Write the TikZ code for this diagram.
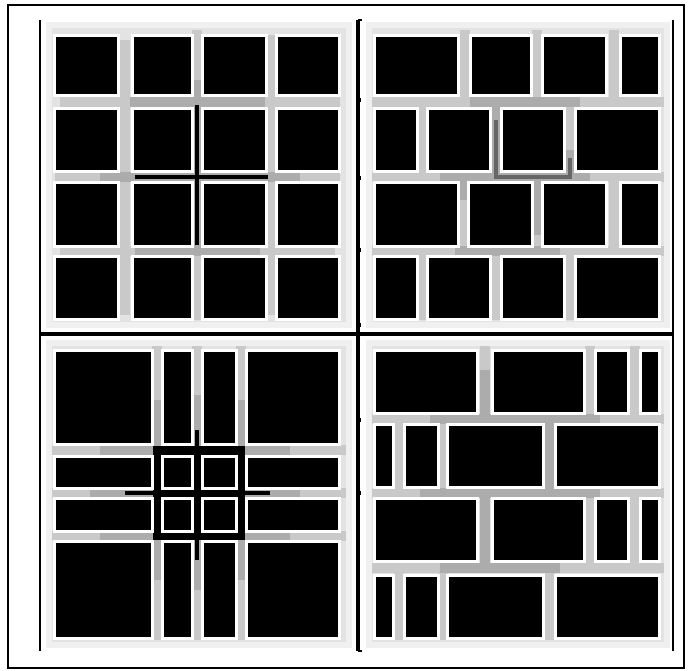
\documentclass[tikz,border=0pt]{standalone}
\begin{document}
\begin{tikzpicture}[x=0.75pt,y=-0.75pt]
\tikzset{
  bgq/.style={fill=gray!22},
  chan/.style={line width=7.5pt,gray!42},
  dchan/.style={line width=7.5pt,gray!65},
  kchan/.style={line width=3pt,black},
  frameline/.style={line width=1.6pt,black},
  mainline/.style={line width=2.2pt,black}
}
\newcommand\blk[4]{\fill[white] (#1-3,#2-3) rectangle (#3+3,#4+3); \fill[black] (#1,#2) rectangle (#3,#4);}
\useasboundingbox (0,0) rectangle (689,671);
\fill[white] (0,0) rectangle (689,671);
% quadrant backgrounds
\fill[gray!12] (46,22) rectangle (352,328);
\fill[bgq] (52,28) rectangle (346,322);
\fill[gray!12] (366,22) rectangle (670,328);
\fill[bgq] (372,28) rectangle (664,322);
\fill[gray!12] (46,340) rectangle (352,648);
\fill[bgq] (52,346) rectangle (346,642);
\fill[gray!12] (366,340) rectangle (670,648);
\fill[bgq] (372,346) rectangle (664,642);
% ---------- TL channels
\draw[chan] (125,40) -- (125,315);
\draw[chan] (197,30) -- (197,320);
\draw[chan] (271,35) -- (271,315);
\draw[chan] (60,102) -- (340,102);
\draw[chan] (55,177) -- (340,177);
\draw[chan] (60,251) -- (335,251);
\draw[dchan] (197,80) -- (197,255);
\draw[dchan] (130,102) -- (265,102);
\draw[dchan] (100,177) -- (300,177);
\draw[dchan] (135,251) -- (260,251);
\draw[kchan] (197,105) -- (197,245);
\draw[kchan] (135,177) -- (268,177);
% TL blocks
\foreach \ya/\yb in {37/94,110/170,184/245,258/318}{
  \foreach \xa/\xb in {56/117,134/191,204/265,278/338}{
    \blk{\xa}{\ya}{\xb}{\yb}
  }
}
% ---------- TR channels
\draw[chan] (372,102) -- (664,102);
\draw[chan] (372,177) -- (664,177);
\draw[chan] (372,251) -- (664,251);
\draw[chan] (465,30) -- (465,102); \draw[chan] (537,30) -- (537,102); \draw[chan] (614,30) -- (614,102);
\draw[chan] (422,102) -- (422,177); \draw[chan] (496,102) -- (496,177); \draw[chan] (570,102) -- (570,177);
\draw[chan] (463,177) -- (463,251); \draw[chan] (537,177) -- (537,251); \draw[chan] (614,177) -- (614,251);
\draw[chan] (422,251) -- (422,320); \draw[chan] (496,251) -- (496,320); \draw[chan] (570,251) -- (570,320);
\draw[dchan] (470,102) -- (580,102);
\draw[dchan] (440,177) -- (590,177);
\draw[dchan] (455,251) -- (560,251);
\draw[dchan] (496,102) -- (496,177);
\draw[dchan] (570,150) -- (570,177);
\draw[dchan] (463,177) -- (463,200);
\draw[dchan] (537,177) -- (537,235);
\draw[line width=3pt,gray!80!black] (496,120) -- (496,177) -- (570,177) -- (570,158);
% TR blocks
\foreach \xa/\xb in {376/457,472/530,544/605,622/658}{\blk{\xa}{37}{\xb}{94}}
\foreach \xa/\xb in {376/416,429/489,503/563,577/658}{\blk{\xa}{110}{\xb}{170}}
\foreach \xa/\xb in {376/457,470/531,544/605,622/658}{\blk{\xa}{184}{\xb}{245}}
\foreach \xa/\xb in {376/416,429/489,503/563,577/658}{\blk{\xa}{258}{\xb}{318}}
% ---------- BL channels
\draw[chan] (157,346) -- (157,640);
\draw[chan] (197,346) -- (197,640);
\draw[chan] (241,346) -- (241,640);
\draw[chan] (52,450) -- (346,450);
\draw[chan] (52,493) -- (346,493);
\draw[chan] (52,536) -- (346,536);
\draw[dchan] (100,450) -- (290,450);
\draw[dchan] (90,493) -- (300,493);
\draw[dchan] (100,536) -- (290,536);
\draw[dchan] (157,400) -- (157,580);
\draw[dchan] (197,395) -- (197,590);
\draw[dchan] (241,400) -- (241,580);
\fill[black] (153,446) rectangle (245,540);
\draw[kchan] (125,493) -- (270,493);
\draw[kchan] (197,430) -- (197,560);
% BL blocks
\blk{56}{352}{151}{443} \blk{164}{352}{191}{443} \blk{204}{352}{235}{443} \blk{248}{352}{338}{443}
\blk{56}{458}{151}{487} \blk{164}{458}{191}{487} \blk{204}{458}{235}{487} \blk{248}{458}{338}{487}
\blk{56}{500}{151}{530} \blk{164}{500}{191}{530} \blk{204}{500}{235}{530} \blk{248}{500}{338}{530}
\blk{56}{543}{151}{637} \blk{164}{543}{191}{637} \blk{204}{543}{235}{637} \blk{248}{543}{338}{637}
% ---------- BR channels
\draw[chan] (372,419) -- (664,419);
\draw[chan] (372,493) -- (664,493);
\draw[chan] (372,568) -- (664,568);
\draw[chan] (485,346) -- (485,419); \draw[chan] (590,346) -- (590,419); \draw[chan] (635,346) -- (635,419);
\draw[chan] (399,419) -- (399,493); \draw[chan] (443,419) -- (443,493); \draw[chan] (550,419) -- (550,493);
\draw[chan] (485,493) -- (485,568); \draw[chan] (590,493) -- (590,568); \draw[chan] (635,493) -- (635,568);
\draw[chan] (399,568) -- (399,640); \draw[chan] (443,568) -- (443,640); \draw[chan] (550,568) -- (550,640);
\draw[dchan] (430,419) -- (600,419);
\draw[dchan] (420,493) -- (600,493);
\draw[dchan] (440,568) -- (560,568);
\draw[dchan] (485,370) -- (485,419);
\draw[dchan] (550,419) -- (550,493);
\draw[dchan] (485,493) -- (485,568);
% BR blocks
\foreach \xa/\xb in {376/476,494/583,597/627,642/658}{\blk{\xa}{352}{\xb}{412}}
\foreach \xa/\xb in {376/392,406/437,449/542,557/658}{\blk{\xa}{426}{\xb}{486}}
\foreach \xa/\xb in {376/476,494/583,597/627,642/658}{\blk{\xa}{500}{\xb}{560}}
\foreach \xa/\xb in {376/392,406/437,449/542,557/658}{\blk{\xa}{577}{\xb}{637}}
% ---------- lines
\draw[mainline] (40,20) -- (40,651);
\draw[line width=2.8pt] (358,20) -- (358,651);
\draw[mainline] (673,20) -- (673,651);
\draw[line width=2.8pt] (40,334) -- (673,334);
\draw[mainline] (358,20) -- (362,20);
\draw[mainline] (358,651) -- (362,651);
\foreach \t in {100,178,250,325,420,493}{\draw[line width=2.5pt] (356,\t) -- (361,\t);}
\draw[frameline] (8,5) rectangle (684,668);
\end{tikzpicture}
\end{document}
